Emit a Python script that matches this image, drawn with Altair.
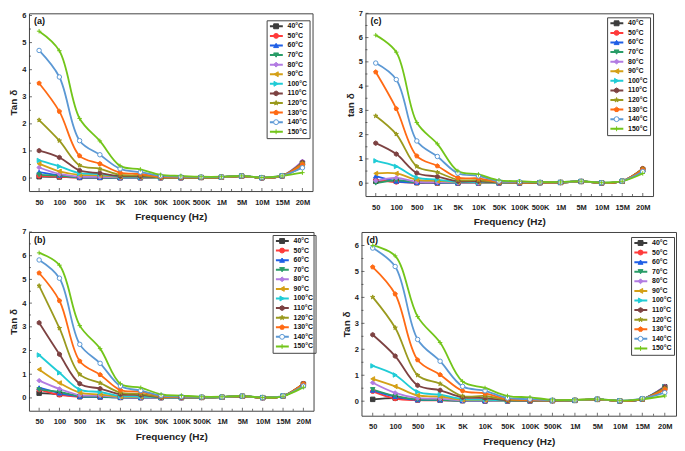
import altair as alt
import pandas as pd

FREQS = ["50", "100", "500", "1K", "5K", "10K", "50K", "100K", "500K", "1M", "5M", "10M", "15M", "20M"]
TEMPS = ["40°C", "50°C", "60°C", "70°C", "80°C", "90°C", "100°C", "110°C", "120°C", "130°C", "140°C", "150°C"]
COLORS = ["#3c3c3c", "#ff3b3b", "#1f5fe6", "#2a9d68", "#b27be2", "#d4a017", "#20ccd6",
          "#7d4242", "#9a9a1e", "#ff6a14", "#5b98d4", "#72c51a"]
FILLS = COLORS[:10] + ["#ffffff", COLORS[11]]
HEX = "M0,-1L0.866,-0.5L0.866,0.5L0,1L-0.866,0.5L-0.866,-0.5Z"
STAR = "M0,-1L0.225,-0.309L0.951,-0.309L0.363,0.118L0.588,0.809L0,0.382L-0.588,0.809L-0.363,0.118L-0.951,-0.309L-0.225,-0.309Z"
PENT = "M0,-1L0.951,-0.309L0.588,0.809L-0.588,0.809L-0.951,-0.309Z"
PLUS = "M-1,0L1,0M0,-1L0,1"
SHAPES = ["square", "circle", "triangle-up", "triangle-down", "diamond", "triangle-left",
          "triangle-right", HEX, STAR, PENT, "circle", PLUS]

# tan delta values, rows = 40..150 °C, columns = FREQS
PANEL_A = [
    [0.05, 0.04, 0.02, 0.02, 0.01, 0.01, 0.01, 0.01, 0.02, 0.03, 0.07, 0.01, 0.08, 0.55],
    [0.08, 0.05, 0.02, 0.02, 0.01, 0.01, 0.01, 0.01, 0.02, 0.03, 0.07, 0.01, 0.08, 0.50],
    [0.22, 0.10, 0.03, 0.02, 0.01, 0.01, 0.01, 0.01, 0.02, 0.03, 0.07, 0.01, 0.08, 0.45],
    [0.12, 0.08, 0.03, 0.02, 0.01, 0.01, 0.01, 0.01, 0.02, 0.03, 0.07, 0.01, 0.08, 0.42],
    [0.39, 0.15, 0.05, 0.04, 0.02, 0.02, 0.01, 0.01, 0.02, 0.03, 0.07, 0.01, 0.08, 0.62],
    [0.53, 0.25, 0.12, 0.10, 0.04, 0.03, 0.02, 0.02, 0.02, 0.03, 0.07, 0.01, 0.08, 0.45],
    [0.65, 0.43, 0.18, 0.15, 0.05, 0.04, 0.02, 0.02, 0.02, 0.03, 0.07, 0.01, 0.08, 0.50],
    [1.01, 0.76, 0.28, 0.18, 0.07, 0.06, 0.03, 0.02, 0.02, 0.03, 0.07, 0.01, 0.08, 0.58],
    [2.14, 1.38, 0.47, 0.34, 0.12, 0.10, 0.03, 0.02, 0.02, 0.03, 0.07, 0.01, 0.08, 0.55],
    [3.50, 2.46, 0.82, 0.53, 0.20, 0.15, 0.04, 0.03, 0.03, 0.03, 0.07, 0.01, 0.08, 0.50],
    [4.71, 3.73, 1.38, 0.86, 0.34, 0.22, 0.08, 0.05, 0.04, 0.04, 0.08, 0.02, 0.09, 0.38],
    [5.42, 4.70, 2.20, 1.37, 0.45, 0.32, 0.12, 0.08, 0.05, 0.05, 0.08, 0.02, 0.08, 0.20],
]
PANEL_B = [
    [0.20, 0.15, 0.05, 0.04, 0.02, 0.01, 0.01, 0.01, 0.02, 0.03, 0.07, 0.01, 0.08, 0.58],
    [0.35, 0.13, 0.05, 0.04, 0.02, 0.01, 0.01, 0.01, 0.02, 0.03, 0.07, 0.01, 0.08, 0.60],
    [0.43, 0.20, 0.06, 0.04, 0.02, 0.01, 0.01, 0.01, 0.02, 0.03, 0.07, 0.01, 0.08, 0.55],
    [0.35, 0.25, 0.07, 0.05, 0.02, 0.02, 0.01, 0.01, 0.02, 0.03, 0.07, 0.01, 0.08, 0.50],
    [0.73, 0.38, 0.12, 0.10, 0.03, 0.02, 0.01, 0.01, 0.02, 0.03, 0.07, 0.01, 0.08, 0.58],
    [1.20, 0.63, 0.22, 0.15, 0.05, 0.04, 0.02, 0.02, 0.02, 0.03, 0.07, 0.01, 0.08, 0.52],
    [1.81, 1.06, 0.35, 0.25, 0.08, 0.06, 0.02, 0.02, 0.02, 0.03, 0.07, 0.01, 0.08, 0.55],
    [3.17, 1.84, 0.60, 0.39, 0.15, 0.12, 0.03, 0.02, 0.02, 0.03, 0.07, 0.01, 0.08, 0.60],
    [4.73, 2.94, 0.99, 0.63, 0.22, 0.17, 0.05, 0.03, 0.03, 0.03, 0.07, 0.01, 0.08, 0.60],
    [5.27, 4.10, 1.55, 0.98, 0.33, 0.26, 0.07, 0.04, 0.03, 0.04, 0.07, 0.01, 0.08, 0.58],
    [5.82, 5.05, 2.26, 1.46, 0.50, 0.31, 0.10, 0.06, 0.04, 0.04, 0.08, 0.02, 0.09, 0.50],
    [6.12, 5.60, 3.05, 2.08, 0.60, 0.43, 0.15, 0.10, 0.05, 0.05, 0.08, 0.02, 0.07, 0.45],
]
PANEL_C = [
    [0.08, 0.08, 0.02, 0.01, 0.01, 0.01, 0.01, 0.01, 0.02, 0.03, 0.07, 0.01, 0.08, 0.55],
    [0.12, 0.05, 0.02, 0.01, 0.01, 0.01, 0.01, 0.01, 0.02, 0.03, 0.07, 0.01, 0.08, 0.60],
    [0.29, 0.08, 0.03, 0.02, 0.01, 0.01, 0.01, 0.01, 0.02, 0.03, 0.07, 0.01, 0.08, 0.55],
    [0.00, 0.12, 0.04, 0.03, 0.02, 0.01, 0.01, 0.01, 0.02, 0.03, 0.07, 0.01, 0.08, 0.50],
    [0.10, 0.22, 0.05, 0.04, 0.02, 0.01, 0.01, 0.01, 0.02, 0.03, 0.07, 0.01, 0.08, 0.60],
    [0.40, 0.40, 0.14, 0.10, 0.04, 0.03, 0.02, 0.02, 0.02, 0.03, 0.07, 0.01, 0.08, 0.55],
    [0.92, 0.69, 0.23, 0.15, 0.05, 0.04, 0.02, 0.02, 0.02, 0.03, 0.07, 0.01, 0.08, 0.50],
    [1.65, 1.20, 0.42, 0.27, 0.08, 0.08, 0.03, 0.02, 0.02, 0.03, 0.07, 0.01, 0.08, 0.60],
    [2.77, 2.02, 0.69, 0.45, 0.14, 0.12, 0.04, 0.03, 0.02, 0.03, 0.07, 0.01, 0.08, 0.60],
    [4.58, 3.07, 1.12, 0.71, 0.23, 0.20, 0.05, 0.03, 0.03, 0.03, 0.07, 0.01, 0.08, 0.55],
    [4.95, 4.27, 1.74, 1.10, 0.41, 0.30, 0.08, 0.06, 0.04, 0.04, 0.08, 0.02, 0.09, 0.48],
    [6.10, 5.40, 2.50, 1.62, 0.50, 0.36, 0.12, 0.08, 0.05, 0.05, 0.08, 0.02, 0.08, 0.40],
]
PANEL_D = [
    [0.07, 0.12, 0.05, 0.04, 0.02, 0.01, 0.01, 0.01, 0.02, 0.03, 0.07, 0.01, 0.08, 0.55],
    [0.38, 0.10, 0.04, 0.03, 0.02, 0.01, 0.01, 0.01, 0.02, 0.03, 0.07, 0.01, 0.08, 0.45],
    [0.42, 0.18, 0.05, 0.04, 0.02, 0.01, 0.01, 0.01, 0.02, 0.03, 0.07, 0.01, 0.08, 0.50],
    [0.45, 0.20, 0.06, 0.05, 0.02, 0.02, 0.01, 0.01, 0.02, 0.03, 0.07, 0.01, 0.08, 0.45],
    [0.71, 0.32, 0.12, 0.10, 0.03, 0.02, 0.01, 0.01, 0.02, 0.03, 0.07, 0.01, 0.08, 0.58],
    [0.86, 0.57, 0.22, 0.18, 0.05, 0.04, 0.02, 0.02, 0.02, 0.03, 0.07, 0.01, 0.08, 0.50],
    [1.36, 1.01, 0.36, 0.25, 0.08, 0.06, 0.02, 0.02, 0.02, 0.03, 0.07, 0.01, 0.08, 0.55],
    [2.56, 1.74, 0.61, 0.42, 0.15, 0.12, 0.03, 0.02, 0.02, 0.03, 0.07, 0.01, 0.08, 0.55],
    [4.01, 2.83, 1.00, 0.67, 0.20, 0.20, 0.05, 0.04, 0.03, 0.03, 0.07, 0.01, 0.08, 0.50],
    [5.17, 4.13, 1.59, 1.02, 0.40, 0.30, 0.08, 0.05, 0.03, 0.04, 0.07, 0.01, 0.08, 0.45],
    [5.90, 5.19, 2.38, 1.54, 0.57, 0.40, 0.12, 0.08, 0.04, 0.04, 0.08, 0.02, 0.10, 0.33],
    [6.00, 5.60, 3.26, 2.26, 0.76, 0.51, 0.20, 0.15, 0.05, 0.05, 0.08, 0.02, 0.08, 0.20],
]

FONT = "Liberation Sans"
LINE_SYM = "M-1,0L3.8,0"
# marker-legend keys carry a trailing space so the two legends stay separate
MARK_KEYS = [t + " " for t in TEMPS]


def panel(vals, tag, ytitle, w, h, ydom, ymax, legx, legy, ytp):
    rows = []
    for t, k, series in zip(TEMPS, MARK_KEYS, vals):
        for f, v in zip(FREQS, series):
            rows.append({"f": f, "v": v, "T": t, "K": k})
    df = pd.DataFrame(rows)
    xs = alt.Scale(type="point", padding=0.5, domain=FREQS)
    ys = alt.Scale(domain=ydom, nice=False, zero=False)
    xaxis = alt.Axis(title="Frequency (Hz)", labelAngle=0, ticks=False, domain=False,
                     labelPadding=7, titlePadding=6)
    yaxis = alt.Axis(title=ytitle, values=list(range(0, ymax + 1)), ticks=False,
                     domain=False, grid=False, labelPadding=3, titlePadding=ytp,
                     labelOverlap=False, labelBound=False)
    x = alt.X("f:N", sort=FREQS, scale=xs, axis=xaxis)
    y = alt.Y("v:Q", scale=ys, axis=yaxis)
    leg_common = dict(orient="none", legendY=legy, title=None,
                      labelFont=FONT, labelFontSize=7, labelFontWeight="bold",
                      padding=2, rowPadding=1.6, clipHeight=8)
    leg_line = alt.Legend(legendX=legx, symbolType=LINE_SYM, symbolSize=29, symbolStrokeWidth=2,
                          labelOffset=11, strokeColor="#444", labelColor="#111", **leg_common)
    leg_pt = alt.Legend(legendX=legx + 4, symbolSize=24, symbolStrokeWidth=1, labelOffset=11,
                        labelExpr="''", **leg_common)

    line = alt.Chart(df).mark_line(interpolate="catmull-rom", strokeWidth=1.8).encode(
        x=x, y=y,
        color=alt.Color("T:N", sort=TEMPS, scale=alt.Scale(domain=TEMPS, range=COLORS), legend=leg_line),
    )
    pts = alt.Chart(df).mark_point(size=20, strokeWidth=1, opacity=1).encode(
        x=x, y=y,
        shape=alt.Shape("K:N", sort=MARK_KEYS, scale=alt.Scale(domain=MARK_KEYS, range=SHAPES), legend=leg_pt),
        fill=alt.Fill("K:N", sort=MARK_KEYS, scale=alt.Scale(domain=MARK_KEYS, range=FILLS), legend=leg_pt),
        stroke=alt.Stroke("K:N", sort=MARK_KEYS, scale=alt.Scale(domain=MARK_KEYS, range=COLORS), legend=leg_pt),
    )
    step = w / 14.0
    tdf = pd.DataFrame({"f": FREQS})
    xmaj = alt.Chart(tdf).mark_tick(orient="vertical", size=3, thickness=1, color="#333").encode(
        x=x, y=alt.value(h - 1.5))
    xmin = alt.Chart(tdf.iloc[:-1]).mark_tick(orient="vertical", size=2, thickness=1, color="#333",
                                             xOffset=step / 2).encode(x=x, y=alt.value(h - 1))
    ydf = pd.DataFrame({"v": [float(i) for i in range(0, ymax + 1)]})
    ydf2 = pd.DataFrame({"v": [i + 0.5 for i in range(0, ymax)]})
    ymaj = alt.Chart(ydf).mark_tick(orient="horizontal", size=3, thickness=1, color="#333").encode(
        y=y, x=alt.value(1.5))
    ymin = alt.Chart(ydf2).mark_tick(orient="horizontal", size=2, thickness=1, color="#333").encode(
        y=y, x=alt.value(1))
    lab = alt.Chart(pd.DataFrame({"t": [tag]})).mark_text(
        align="left", baseline="middle", font=FONT, fontSize=9, fontWeight="bold", color="#111"
    ).encode(text="t:N", x=alt.value(5), y=alt.value(8))
    return alt.layer(line, pts, xmaj, xmin, ymaj, ymin, lab).properties(width=w, height=h)


A = panel(PANEL_A, "(a)", "Tan δ", 284, 178, [-0.48, 6.08], 6, 238, 7, 3)
C = panel(PANEL_C, "(c)", "tan δ", 288, 183, [-0.53, 7.0], 7, 242, 4, 3)
B = panel(PANEL_B, "(b)", "Tan δ", 285, 179, [-0.54, 7.0], 7, 244, 3, 3)
D = panel(PANEL_D, "(d)", "Tan δ", 315, 184, [-0.56, 6.52], 6, 270, 5, 3)

RES = dict(color="independent", shape="independent", fill="independent", stroke="independent")
row1 = alt.hconcat(A, C, spacing=53, bounds="flush").resolve_scale(**RES).resolve_legend(**RES)
row2 = alt.hconcat(B, D, spacing=48, bounds="flush").resolve_scale(**RES).resolve_legend(**RES)
chart = alt.vconcat(row1, row2, spacing=0).resolve_scale(**RES).resolve_legend(**RES).properties(
    padding={"left": 0, "top": 0, "right": 0, "bottom": 0}
).configure_axis(
    labelFont=FONT, labelFontSize=7.5, labelFontWeight="bold", labelColor="#222",
    titleFont=FONT, titleFontSize=10, titleFontWeight="bold", titleColor="#222",
).configure_view(stroke="#444", strokeWidth=1)

chart.save("out.html", embed_options={"renderer": "svg", "actions": False})
